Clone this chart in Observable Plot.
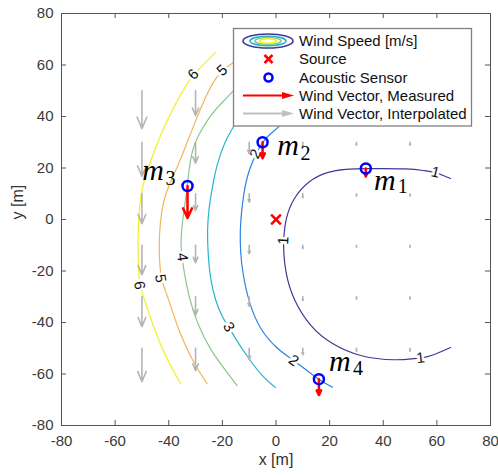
<!DOCTYPE html>
<html><head><meta charset="utf-8">
<script src="https://cdn.jsdelivr.net/npm/d3@7"></script>
<script src="https://cdn.jsdelivr.net/npm/@observablehq/plot@0.6"></script>
<style>body{margin:0;background:#fff}#chart{width:498px;height:476px}</style>
</head><body><div id="chart"></div>
<script>
// ---------- data ----------
const levels = [1, 2, 3, 4, 5, 6];
const contour1 = [[65.1,15.9],[62.5,17.1],[59.5,18.3],[55.0,19.0],[50.2,19.8],[33.4,19.8],[25.9,19.6],[19.2,18.6],[12.1,15.1],[6.5,8.5],[3.5,0.4],[2.8,-8.2],[2.8,-12.0],[3.5,-21.0],[6.5,-31.5],[12.9,-41.9],[20.3,-48.2],[31.5,-53.6],[45.3,-54.8],[51.3,-54.0],[53.9,-53.8],[57.6,-53.2],[65.1,-49.7]];
const contour2 = [[6.2,41.6],[1.0,35.8],[-2.1,33.3],[-4.6,30.7],[-7.6,25.5],[-10.1,19.0],[-11.4,13.9],[-12.6,6.1],[-13.5,-4.3],[-13.2,-13.3],[-12.6,-19.8],[-10.1,-32.7],[-5.8,-43.1],[0.2,-50.1],[6.6,-54.8],[9.1,-56.7],[16.0,-62.3],[21.0,-65.1]];
const contour3 = [[-10.3,46.2],[-16.3,35.2],[-18.8,30.7],[-20.7,25.5],[-22.6,19.0],[-23.8,12.0],[-25.0,4.8],[-25.7,-4.3],[-25.3,-14.6],[-24.4,-23.7],[-22.6,-31.5],[-20.1,-37.9],[-17.6,-41.8],[-15.1,-46.3],[-11.4,-52.2],[-5.1,-61.2],[-0.2,-65.2]];
const contour4 = [[-11.4,55.5],[-16.3,49.4],[-20.1,45.6],[-25.1,39.7],[-29.4,32.0],[-31.3,26.8],[-32.5,19.0],[-33.1,12.5],[-34.3,3.5],[-35.0,-1.7],[-35.6,-9.4],[-35.0,-14.6],[-34.4,-19.8],[-32.5,-30.2],[-29.4,-40.5],[-24.4,-50.9],[-18.8,-58.6],[-14.5,-64.5]];
const contour5 = [[-15.7,61.1],[-20.1,57.9],[-23.2,54.0],[-26.3,47.5],[-30.0,38.4],[-33.8,28.1],[-36.3,21.6],[-40.1,12.8],[-42.0,7.4],[-43.3,-1.6],[-43.7,-10.8],[-43.1,-22.9],[-41.2,-27.6],[-38.7,-35.3],[-36.3,-43.1],[-31.3,-54.8],[-25.7,-63.8]];
const contour6 = [[-22.6,64.9],[-30.8,56.3],[-33.0,53.2],[-37.5,45.0],[-42.4,34.6],[-46.8,22.9],[-50.6,11.3],[-51.5,-4.3],[-51.5,-15.9],[-50.9,-25.6],[-49.3,-30.3],[-46.8,-38.4],[-43.8,-46.9],[-40.1,-55.5],[-35.6,-63.7]];
const contourLabels = [
  {level: 6, x: -30.8, y: 56.3}, {level: 6, x: -50.9, y: -25.6},
  {level: 5, x: -20.1, y: 57.9}, {level: 5, x: -43.1, y: -22.9},
  {level: 4, x: -35.0, y: -14.6}, {level: 3, x: -17.6, y: -41.8},
  {level: 2, x: -7.6, y: 25.5}, {level: 2, x: 6.6, y: -54.8},
  {level: 1, x: 2.8, y: -8.2}, {level: 1, x: 59.5, y: 18.3}, {level: 1, x: 53.9, y: -53.8}
];
// interpolated wind field (speed in m/s, direction: towards -y)
const gridX = [-50, -30, -10, 10, 30, 50];
const gridY = [50, 30, 10, -10, -30, -50];
const gridSpeed = [
  [7.6, 5.0, 2.6, 1.2, 1.0, 0.9],
  [6.8, 4.2, 2.3, 1.0, 0.6, 0.6],
  [6.0, 3.4, 1.7, 0.8, 0.5, 0.5],
  [5.9, 3.5, 1.7, 0.7, 0.4, 0.4],
  [6.0, 3.7, 1.9, 0.8, 0.5, 0.5],
  [6.7, 4.5, 2.3, 1.3, 0.6, 0.6]
];
// sensors and source
const sensorNames = ["1", "2", "3", "4"];
const sensorX = [33.5, -5, -33, 16];
const sensorY = [19.8, 30, 13, -62];
const sensorSpeed = [1, 2, 4, 2];
const sourceX = [0];
const sourceY = [0];
const xTicks = [-80, -60, -40, -20, 0, 20, 40, 60, 80];
const yTicks = [-80, -60, -40, -20, 0, 20, 40, 60, 80];
const legendLabels = ["Wind Speed [m/s]", "Source", "Acoustic Sensor", "Wind Vector, Measured", "Wind Vector, Interpolated"];

// ---------- layout / style ----------
const W = 498, H = 476, mL = 61, mR = 8, mT = 13, mB = 51;
const plotW = W - mL - mR, plotH = H - mT - mB;
const kx = plotW / 160, ky = plotH / 160;
const palette = ["#3f3a96", "#2c83e0", "#27b4cf", "#8cc68c", "#f4b45c", "#f4ef1c"];
const interpScale = 1.94, measScale = 3.1;
const sans = "'Liberation Sans', Arial, Helvetica, sans-serif";
const serif = "'Liberation Serif', 'Times New Roman', serif";

// ---------- tables ----------
const contours = {1: contour1, 2: contour2, 3: contour3, 4: contour4, 5: contour5, 6: contour6};
const contourRows = levels.flatMap(l => contours[l].map(([x, y]) => ({level: l, x, y})));
function labelAngle(level, x, y) {
  const pts = contours[level];
  let best = 0, bd = Infinity;
  pts.forEach(([px, py], i) => { const d = (px - x) ** 2 + (py - y) ** 2; if (d < bd) { bd = d; best = i; } });
  const a = pts[Math.max(0, best - 1)], b = pts[Math.min(pts.length - 1, best + 1)];
  let ang = Math.atan2(-(b[1] - a[1]) * ky, (b[0] - a[0]) * kx) * 180 / Math.PI;
  if (ang > 90) ang -= 180;
  if (ang < -90) ang += 180;
  return ang;
}
const labelRows = contourLabels.map(d => ({...d, angle: labelAngle(d.level, d.x, d.y)}));
const gridRows = gridY.flatMap((y, i) => gridX.map((x, j) => ({x, y, speed: gridSpeed[i][j]})));
const sensors = sensorNames.map((n, i) => ({name: n, x: sensorX[i], y: sensorY[i], speed: sensorSpeed[i]}));
const source = sourceX.map((x, i) => ({x, y: sourceY[i]}));

// label offsets (px) for m_k: [m dx, m dy, sub dx, sub dy]
const labelOffsets = {"1": [19, 11.5, 37, 18], "2": [25.5, 3.5, 43, 11], "3": [-34.5, -16, -17, -7], "4": [21, -17.5, 39, -11]};
const sensorLabelMarks = sensors.flatMap(s => {
  const o = labelOffsets[s.name];
  return [
    Plot.text([s], {x: "x", y: "y", text: () => "m", dx: o[0], dy: o[1], fontFamily: serif, fontStyle: "italic", fontSize: 30, fill: "#000"}),
    Plot.text([s], {x: "x", y: "y", text: "name", dx: o[2], dy: o[3], fontFamily: serif, fontSize: 20, fill: "#000"})
  ];
});

const chart = Plot.plot({
  width: W, height: H,
  marginLeft: mL, marginRight: mR, marginTop: mT, marginBottom: mB,
  x: {domain: [-80, 80]},
  y: {domain: [-80, 80]},
  color: {type: "ordinal", domain: levels, range: palette},
  style: {fontFamily: sans, fontSize: "15px", color: "#3a3a3a", background: "#fff", overflow: "visible"},
  marks: [
    Plot.line(contourRows, {x: "x", y: "y", z: "level", stroke: "level", strokeWidth: 1.2, curve: "basis"}),
    Plot.text(labelRows, {x: "x", y: "y", text: d => String(d.level), rotate: "angle", fontSize: 15, fill: "#111", stroke: "#fff", strokeWidth: 5, paintOrder: "stroke"}),
    Plot.arrow(gridRows, {x1: "x", y1: "y", x2: "x", y2: d => d.y - d.speed * interpScale, stroke: "#b4b4b4", strokeWidth: 1.6, headLength: 12, headAngle: 45}),
    Plot.dot(source, {x: "x", y: "y", symbol: "times", r: 4.5, stroke: "#ff0000", strokeWidth: 2.5}),
    Plot.arrow(sensors, {x1: "x", y1: "y", x2: "x", y2: d => d.y - d.speed * measScale, stroke: "#ff0000", strokeWidth: 2.5, headLength: 9, headAngle: 50}),
    Plot.dot(sensors, {x: "x", y: "y", r: 5, stroke: "#0000ff", strokeWidth: 2.5, fill: "none"}),
    ...sensorLabelMarks,
    Plot.frame({stroke: "#555", strokeWidth: 1}),
    Plot.tickX(xTicks, {x: d => d, insetTop: plotH - 5, stroke: "#555"}),
    Plot.tickX(xTicks, {x: d => d, insetBottom: plotH - 5, stroke: "#555"}),
    Plot.tickY(yTicks, {y: d => d, insetRight: plotW - 5, stroke: "#555"}),
    Plot.tickY(yTicks, {y: d => d, insetLeft: plotW - 5, stroke: "#555"}),
    Plot.axisX({ticks: xTicks, tickSize: 0, tickPadding: 10, label: null, tickFormat: d => String(d)}),
    Plot.axisY({ticks: yTicks, tickSize: 0, tickPadding: 8, label: null, tickFormat: d => String(d)}),
    Plot.text(["x [m]"], {frameAnchor: "bottom", text: d => d, dy: 39, fontSize: 16, fill: "#333"}),
    Plot.text(["y [m]"], {frameAnchor: "left", text: d => d, rotate: -90, dx: -44, fontSize: 16, fill: "#333"})
  ]
});
document.getElementById("chart").appendChild(chart);

// ---------- legend (inside the axes, top right) ----------
const svg = d3.select(chart);
const lg = svg.append("g").attr("font-family", sans).attr("font-size", 15).attr("fill", "#111").attr("text-anchor", "start");
lg.append("rect").attr("x", 233.5).attr("y", 28.5).attr("width", 238).attr("height", 97.5)
  .attr("fill", "#fff").attr("stroke", "#808080").attr("stroke-width", 1.3);
const rowY = [41, 59, 77.5, 95.5, 113.5];
legendLabels.forEach((t, i) => lg.append("text").attr("x", 299).attr("y", rowY[i]).attr("dy", "0.35em").attr("text-anchor", "start").text(t));
[[25, 7, palette[0]], [18, 4.8, palette[2]], [13, 3.5, palette[3]], [8.5, 2.3, palette[5]]].forEach(([rx, ry, c]) =>
  lg.append("ellipse").attr("cx", 268).attr("cy", rowY[0]).attr("rx", rx).attr("ry", ry)
    .attr("fill", "none").attr("stroke", c).attr("stroke-width", 1.6));
lg.append("path").attr("d", `M264.5,${rowY[1]-4}L272.5,${rowY[1]+4}M272.5,${rowY[1]-4}L264.5,${rowY[1]+4}`)
  .attr("stroke", "#ff0000").attr("stroke-width", 2.5).attr("fill", "none");
lg.append("circle").attr("cx", 268.5).attr("cy", rowY[2]).attr("r", 4).attr("stroke", "#0000ff").attr("stroke-width", 2.5).attr("fill", "none");
lg.append("line").attr("x1", 243).attr("x2", 284).attr("y1", rowY[3]).attr("y2", rowY[3]).attr("stroke", "#ff0000").attr("stroke-width", 2.2);
lg.append("path").attr("d", `M282,${rowY[3]-3.5}L294,${rowY[3]}L282,${rowY[3]+3.5}Z`).attr("fill", "#ff0000");
lg.append("line").attr("x1", 243).attr("x2", 284).attr("y1", rowY[4]).attr("y2", rowY[4]).attr("stroke", "#c0c0c0").attr("stroke-width", 2);
lg.append("path").attr("d", `M282,${rowY[4]-3.5}L294,${rowY[4]}L282,${rowY[4]+3.5}Z`).attr("fill", "#c0c0c0");
</script>
</body></html>
